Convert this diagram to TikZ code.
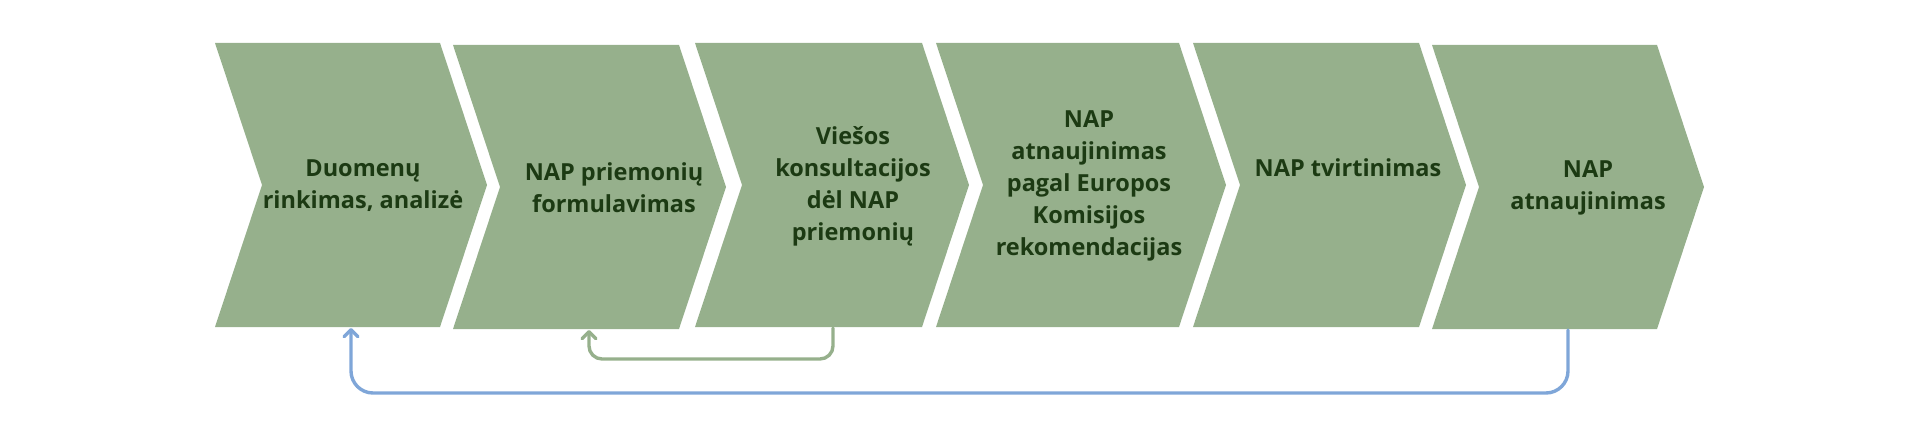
\documentclass[tikz,border=0pt]{standalone}
\usepackage{fontspec}
\setmainfont{Open Sans}
\usetikzlibrary{arrows.meta}
\definecolor{chevfill}{HTML}{96B08C}
\definecolor{chevtext}{HTML}{1C3A13}
\definecolor{loopblue}{HTML}{7FA6D8}
\definecolor{loopgreen}{HTML}{96B08C}
\newcommand\mychev[4]{%
  \fill[chev] (#1,#3) -- (#2,#3) -- ({#2+47},{(#3+#4)/2}) -- (#2,#4) -- (#1,#4) -- ({#1+47},{(#3+#4)/2}) -- cycle;}
\tikzset{
  chev/.style={fill=chevfill},
  lbl/.style={text=chevtext, font=\fontsize{23.5}{32}\selectfont\bfseries, align=center, inner sep=0pt},
  looparrow/.style={line width=3.4pt, line cap=round, rounded corners=#1,
    -{Straight Barb[length=7pt,width=14pt,line cap=round,line join=round]}},
}
\begin{document}
\begin{tikzpicture}[x=1pt,y=-1pt]
  \useasboundingbox (0,0) rectangle (1920,441);
  \mychev{215}{440}{43}{327}
  \mychev{453}{679}{45}{329}
  \mychev{695}{922}{43}{327}
  \mychev{936}{1179}{43}{327}
  \mychev{1193}{1419}{43}{327}
  \mychev{1432}{1657}{45}{329}
  \node[lbl] (t1) at (363,186) {Duomenų\\rinkimas, analizė};
  \node[lbl] (t2) at (614,188) {NAP priemonių\\formulavimas};
  \node[lbl] (t3) at (853,186) {Viešos\\konsultacijos\\dėl NAP\\priemonių};
  \node[lbl] (t4) at (1089,186) {NAP\\atnaujinimas\\pagal Europos\\Komisijos\\rekomendacijas};
  \node[lbl] (t5) at (1348,168) {NAP tvirtinimas};
  \node[lbl] (t6) at (1588,188) {NAP\\atnaujinimas};
  \coordinate (b1) at (351,328);
  \coordinate (b2) at (589,330);
  \coordinate (b3) at (833,328);
  \coordinate (b6) at (1568,330);
  \draw[looparrow=13pt, loopgreen] (b3) -- ++(0,31) -| (b2);
  \draw[looparrow=22pt, loopblue] (b6) -- ++(0,63) -| (b1);
\end{tikzpicture}
\end{document}
